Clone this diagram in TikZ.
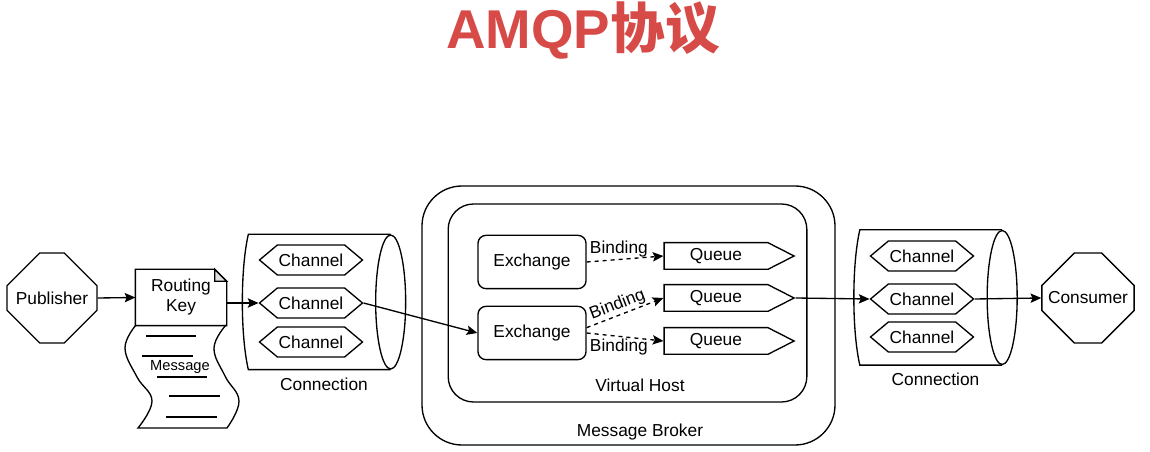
\documentclass[tikz,border=0pt]{standalone}
\usepackage{fontspec}
\setmainfont{Liberation Sans}
\newfontfamily\cjk{Noto Sans CJK SC}
\usetikzlibrary{shapes.geometric, shapes.symbols, shapes.misc, positioning, arrows.meta}
\definecolor{titlered}{RGB}{214,74,72}
\tikzset{
    actor/.style={
        draw,
        chamfered rectangle,
        chamfered rectangle xsep=19.8pt,
        chamfered rectangle ysep=19.8pt,
        minimum width=67.5pt,
        minimum height=67.5pt,
        inner sep=0pt,
    },
    doc/.style={
        align=center,
        minimum width=67.5pt,
        minimum height=41.25pt,
        inner sep=2pt,
    },
    chan/.style={
        draw, fill=white,
        signal, signal to=east and west,
        signal pointer angle=80,
        minimum width=70pt,
        minimum height=22.5pt,
        inner sep=1pt,
    },
    queue/.style={
        draw, fill=white,
        signal, signal to=east,
        signal pointer angle=54,
        minimum width=97.5pt,
        minimum height=20pt,
        inner sep=1pt,
    },
    exch/.style={
        draw,
        rounded corners=6pt,
        minimum width=81pt,
        minimum height=40pt,
    },
    conn/.style={
        minimum width=121.5pt,
        minimum height=100.5pt,
        inner sep=0pt,
        label={[label distance=2pt]below:Connection},
    },
    host/.style={
        draw,
        rounded corners=19pt,
        minimum width=269pt,
        minimum height=148.5pt,
    },
    broker/.style={
        draw,
        rounded corners=30pt,
        minimum width=309.75pt,
        minimum height=194.25pt,
    },
    link/.style={-{Stealth[length=8pt,width=7pt,inset=1.5pt]}},
    bind/.style={dashed, -{Stealth[length=8pt,width=7pt,inset=1.5pt]}},
}
% cylinder outline round a conn node
\newcommand{\drawcyl}[1]{%
    \draw ([xshift=-11.25pt]#1.north east) -- ([xshift=4.5pt]#1.north west)
          .. controls ([xshift=-1.5pt,yshift=-26pt]#1.north west) and ([xshift=-1.5pt,yshift=26pt]#1.south west)
          .. ([xshift=4.5pt]#1.south west) -- ([xshift=-11.25pt]#1.south east);
    \draw ([xshift=-11.25pt]#1.east) ellipse [x radius=11.25pt, y radius=50.25pt];
}

\begin{document}
\begin{tikzpicture}[x=0.75pt, y=-0.75pt, line width=1pt, font=\fontsize{13}{15}\selectfont]
    \useasboundingbox (0,0) rectangle (1150,452);
    \node[text=titlered, font=\fontsize{41}{48}\selectfont\bfseries] (title) at (583,30) {AMQP{\cjk 协议}};
    % broker + vhost
    \node[broker] (mb) at (628.5,315.5) {};
    \node[host] (vh) at (627.5,303) {};
    \node (mblbl) at (640,432) {Message Broker};
    \node (vhlbl) at (640,385) {Virtual Host};
    % publisher side
    \node[actor] (pub) at (52,298) {Publisher};
    \node[doc] (rkey) at (181,297.5) {Routing\\Key};
    \draw (rkey.north west) -- ([xshift=-9pt]rkey.north east) -- ([yshift=-9pt]rkey.north east)
          -- (rkey.south east) -- (rkey.south west) -- cycle;
    \draw[fill=black!12] ([xshift=-9pt]rkey.north east) |- ([yshift=-9pt]rkey.north east) -- cycle;
    \draw plot[smooth, tension=0.7] coordinates {(136,325) (125,348) (137,377) (152,401) (138,428)}
          -- plot[smooth, tension=0.7] coordinates {(227,428) (239,401) (225,376) (214,348) (226,325)};
    \draw (146,336) -- (196,336);
    \draw (142,356) -- (193,356);
    \draw (157,377) -- (207,377);
    \draw (169,396) -- (220,396);
    \draw (166,417) -- (217,417);
    \node[font=\fontsize{11}{13}\selectfont] (msg) at (180,367) {Message};
    % connections
    \node[conn] (lconn) at (324,302) {};
    \drawcyl{lconn}
    \node[chan] (lch1) at (311,260) {Channel};
    \node[chan] (lch2) at (311,303) {Channel};
    \node[chan] (lch3) at (311,342) {Channel};
    \node[conn] (rconn) at (935.5,297.5) {};
    \drawcyl{rconn}
    \node[chan] (rch1) at (922,256) {Channel};
    \node[chan] (rch2) at (922,299) {Channel};
    \node[chan] (rch3) at (922,337) {Channel};
    % exchanges + queues
    \node[exch] (ex1) at (532,262) {Exchange};
    \node[exch] (ex2) at (532,333) {Exchange};
    \node[queue] (q1) at (716,256) {Queue};
    \node[queue] (q2) at (716,298) {Queue};
    \node[queue] (q3) at (716,341) {Queue};
    \node[actor] (cons) at (1088,298) {Consumer};
    % arrows
    \draw[link] (pub.east) -- (rkey.west);
    \draw[link] (rkey.east |- lch2.west) -- (lch2.west);
    \draw[link] (lch2.east) -- (ex2.west);
    \draw[bind] (ex1.east) -- node[above, pos=0.42, inner sep=1.5pt] {Binding} (q1.west);
    \draw[bind] ([yshift=4pt]ex2.east) -- node[above, sloped, pos=0.45, inner sep=1pt] {Binding} (q2.west);
    \draw[bind] (ex2.east) -- node[below, pos=0.42, inner sep=1.5pt] {Binding} (q3.west);
    \draw[link] (q2.east) -- (rch2.west);
    \draw[link] (rch2.east) -- (cons.west);
\end{tikzpicture}
\end{document}
